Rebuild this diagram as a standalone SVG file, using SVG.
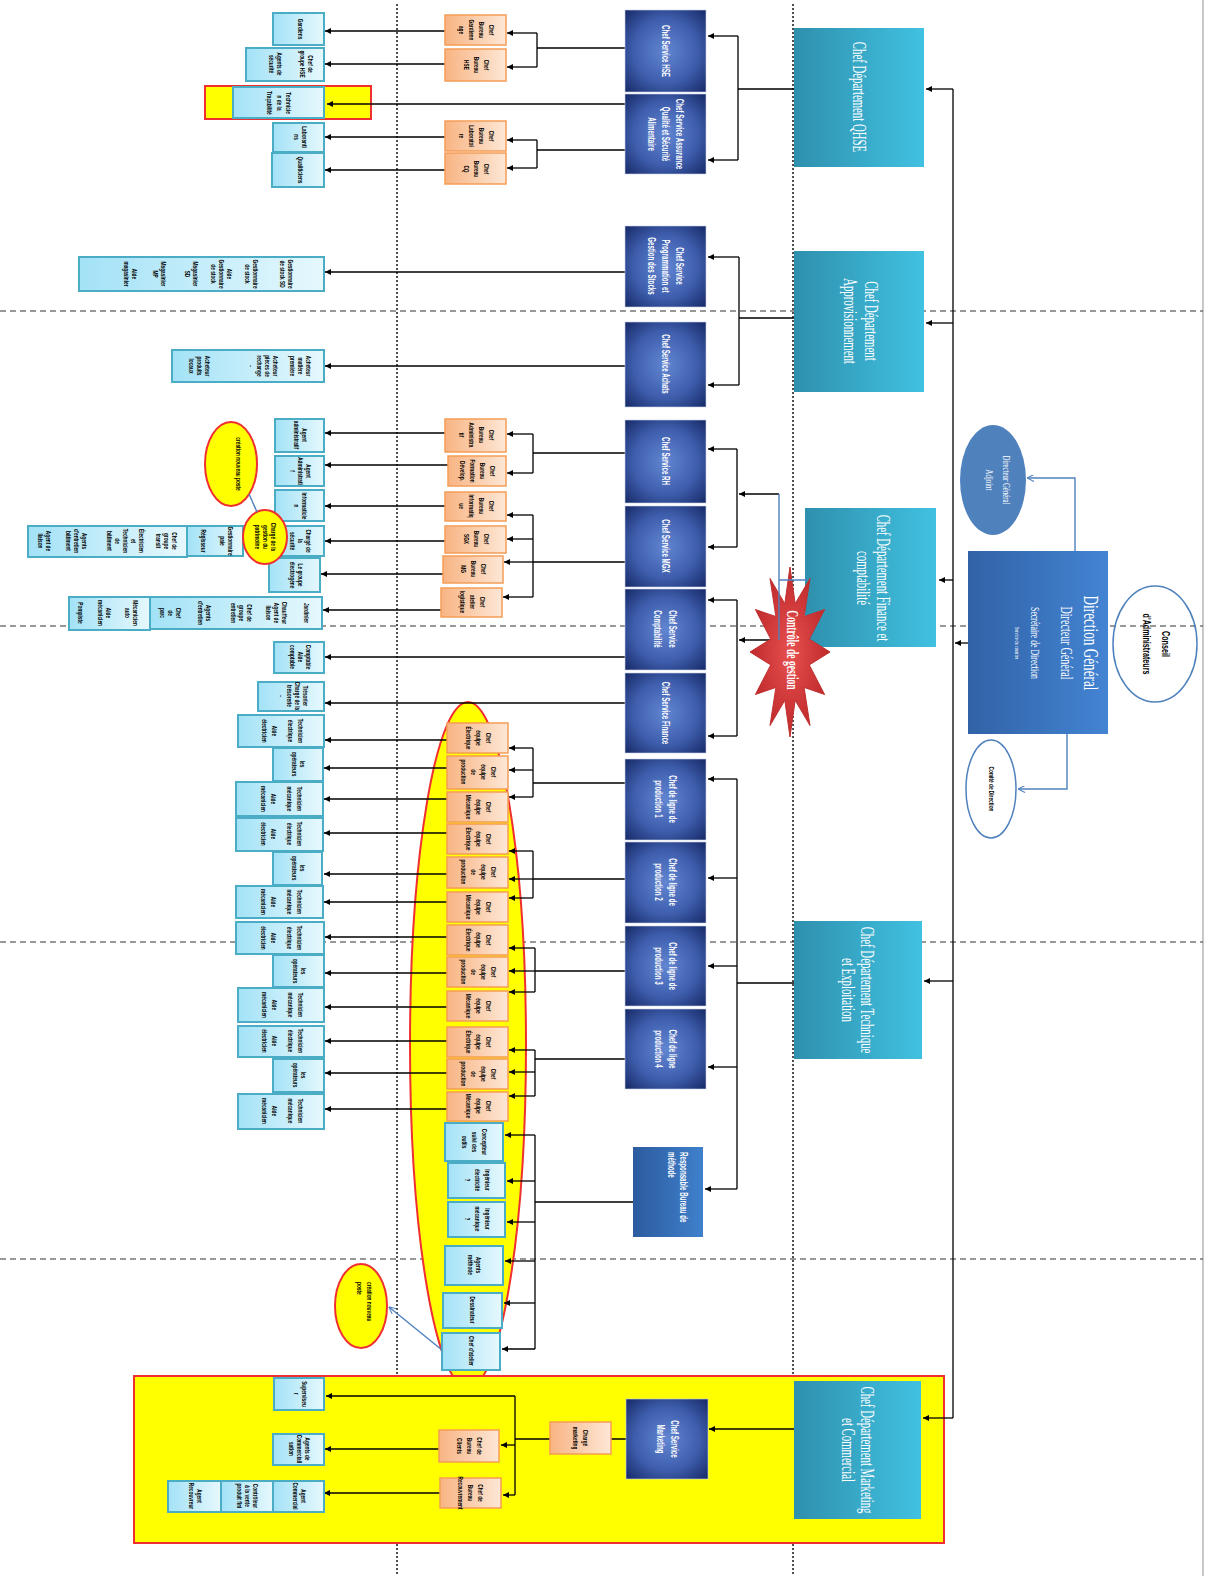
<svg xmlns="http://www.w3.org/2000/svg" width="1208" height="1576" viewBox="0 0 1208 1576">
<defs>
<linearGradient id="gT" x1="0" y1="0" x2="1" y2="0"><stop offset="0" stop-color="#2e90ad"/><stop offset="1" stop-color="#41c1e1"/></linearGradient>
<radialGradient id="gN" cx=".5" cy=".5" r=".7"><stop offset="0" stop-color="#6286d2"/><stop offset=".55" stop-color="#3f5fae"/><stop offset="1" stop-color="#172a68"/></radialGradient>
<linearGradient id="gDG" x1="0" y1="0" x2="1" y2="0"><stop offset="0" stop-color="#3162a6"/><stop offset="1" stop-color="#4384d3"/></linearGradient>
<linearGradient id="gR" x1="0" y1="0" x2="1" y2="0"><stop offset="0" stop-color="#2c5b9e"/><stop offset="1" stop-color="#3f80cc"/></linearGradient>
<linearGradient id="gO" x1="0" y1="0" x2="1" y2="0"><stop offset="0" stop-color="#f8b483"/><stop offset="1" stop-color="#fde7d6"/></linearGradient>
<linearGradient id="gL" x1="0" y1="0" x2="1" y2="0"><stop offset="0" stop-color="#a3e2f7"/><stop offset="1" stop-color="#e6f8fd"/></linearGradient>
<radialGradient id="gS" cx=".5" cy=".5" r=".6"><stop offset="0" stop-color="#e85050"/><stop offset="1" stop-color="#b82222"/></radialGradient>
<marker id="ah" viewBox="0 0 10 10" refX="10" refY="5" markerWidth="7" markerHeight="6" orient="auto" markerUnits="userSpaceOnUse"><path d="M0,0L10,5L0,10z" fill="#000"/></marker>
<marker id="bh" viewBox="0 0 10 10" refX="10" refY="5" markerWidth="8" markerHeight="7" orient="auto" markerUnits="userSpaceOnUse"><path d="M0,0L10,5L0,10" fill="none" stroke="#4f81bd" stroke-width="1.5"/></marker>
<style>
.grid{stroke:#333;stroke-width:1.2;stroke-dasharray:6 4;fill:none}
.dot{stroke:#222;stroke-width:1.6;stroke-dasharray:2 2;fill:none}
.c{fill:none;stroke:#000;stroke-width:1.3}
.a{marker-end:url(#ah)}
.b{fill:none;stroke:#4f81bd;stroke-width:1.4}
.ba{marker-end:url(#bh)}
.dept{fill:url(#gT)}
.svc{fill:url(#gN);stroke:#c8d2ea;stroke-width:.6}
.ob{fill:url(#gO);stroke:#f59d56;stroke-width:1.5}
.lb{fill:url(#gL);stroke:#4bacc6;stroke-width:2}
.yel{fill:#ffff00;stroke:#f03030;stroke-width:2}
.tD{font-family:"Liberation Serif",serif;font-size:18px;fill:#fff;text-anchor:middle}
.tV{font-family:"Liberation Sans",sans-serif;font-weight:bold;font-size:10px;fill:#fff;text-anchor:middle}
.tS{font-family:"Liberation Sans",sans-serif;font-weight:bold;font-size:6.6px;fill:#000;text-anchor:middle}
.tB{font-family:"Liberation Sans",sans-serif;font-weight:bold;font-size:11px;fill:#000;text-anchor:middle}
</style>
</defs>
<rect width="1208" height="1576" fill="#fff"/>
<g id="grid">
<line x1="1203" y1="0" x2="1203" y2="1576" stroke="#c8c8c8" stroke-width="2"/>
<line class="grid" x1="0" y1="311" x2="1203" y2="311"/>
<line class="grid" x1="0" y1="626" x2="1203" y2="626"/>
<line class="grid" x1="0" y1="942" x2="1203" y2="942"/>
<line class="grid" x1="0" y1="1259" x2="1203" y2="1259"/>
<line class="dot" x1="397" y1="4" x2="397" y2="1576"/>
<line class="dot" x1="793" y1="4" x2="793" y2="1576"/>
</g>
<g id="highlights">
<ellipse class="yel" cx="468" cy="1045" rx="58" ry="343"/>
<rect class="yel" x="134" y="1376" width="810" height="167"/>
<rect class="yel" x="205" y="86" width="166" height="33"/>
</g>
<g id="connectors">
<path class="c" d="M953,89V1418"/>
<path class="c a" d="M953,89H926"/><path class="c a" d="M953,323H926"/><path class="c a" d="M953,580H939"/><path class="c a" d="M953,981H924"/><path class="c a" d="M953,1418H923"/>
<path class="c a" d="M968,643H955"/>
<path class="c" d="M794,89H738M738,36V160"/><path class="c a" d="M738,36H708"/><path class="c a" d="M738,160H708"/>
<path class="c" d="M794,318H739M739,257V385"/><path class="c a" d="M739,257H708"/><path class="c a" d="M739,385H708"/>
<path class="c" d="M737,449V547M737,600V736"/><path class="c a" d="M737,449H708"/><path class="c a" d="M737,547H708"/><path class="c a" d="M737,600H708"/><path class="c a" d="M737,736H708"/>
<path class="c a" d="M779,494H739"/><path class="c a" d="M779,640H739"/>
<path class="c" d="M794,983H737M737,779V1189"/><path class="c a" d="M737,779H708"/><path class="c a" d="M737,878H708"/><path class="c a" d="M737,966H708"/><path class="c a" d="M737,1067H708"/><path class="c a" d="M737,1189H705"/>
<path class="c" d="M625,48H537M537,33V67"/><path class="c a" d="M537,33H507"/><path class="c a" d="M537,67H507"/><path class="c a" d="M445,31H325"/><path class="c a" d="M445,64H325"/>
<path class="c a" d="M625,104H327"/>
<path class="c" d="M625,150H537M537,140V168"/><path class="c a" d="M537,140H507"/><path class="c a" d="M537,168H507"/><path class="c a" d="M445,137H325"/><path class="c a" d="M445,170H325"/>
<path class="c a" d="M625,272H325"/><path class="c a" d="M625,366H325"/>
<path class="c" d="M625,453H533M533,434V473"/><path class="c a" d="M533,434H507"/><path class="c a" d="M533,473H507"/><path class="c a" d="M445,433H325"/><path class="c a" d="M448,465H325"/>
<path class="c" d="M625,562H533M533,515V597"/><path class="c a" d="M533,515H507"/><path class="c a" d="M533,539H507"/><path class="c a" d="M533,562H504"/><path class="c a" d="M533,597H503"/>
<path class="c a" d="M445,506H325"/><path class="c a" d="M445,541H325"/><path class="c a" d="M443,574H321"/><path class="c a" d="M441,610H323"/>
<path class="c a" d="M625,657H325"/><path class="c a" d="M625,703H325"/>
<path class="c" d="M625,783H533M533,748V797"/><path class="c a" d="M533,748H509"/><path class="c a" d="M533,770H509"/><path class="c a" d="M533,797H509"/>
<path class="c" d="M625,879H533M533,851V898"/><path class="c a" d="M533,851H509"/><path class="c a" d="M533,879H509"/><path class="c a" d="M533,898H509"/>
<path class="c" d="M625,971H535M535,948V992"/><path class="c a" d="M535,948H509"/><path class="c a" d="M535,971H509"/><path class="c a" d="M535,992H509"/>
<path class="c" d="M625,1059H535M535,1050V1096"/><path class="c a" d="M535,1050H509"/><path class="c a" d="M535,1072H509"/><path class="c a" d="M535,1096H509"/>
<path class="c a" d="M447,740H325"/><path class="c a" d="M447,768H324"/><path class="c a" d="M447,799H324"/><path class="c a" d="M447,833H324"/><path class="c a" d="M447,874H324"/><path class="c a" d="M447,902H324"/>
<path class="c a" d="M447,937H325"/><path class="c a" d="M447,973H325"/><path class="c a" d="M447,1007H325"/><path class="c a" d="M447,1041H325"/><path class="c a" d="M447,1073H325"/><path class="c a" d="M447,1109H325"/>
<path class="c" d="M633,1202H535M535,1135V1349"/><path class="c a" d="M535,1135H505"/><path class="c a" d="M535,1181H507"/><path class="c a" d="M535,1222H507"/><path class="c a" d="M535,1261H505"/><path class="c a" d="M535,1303H504"/><path class="c a" d="M535,1349H502"/>
<path class="c a" d="M794,1429H709"/><path class="c" d="M626,1439H611M550,1439H515M515,1396V1495"/><path class="c a" d="M515,1396H326"/><path class="c a" d="M515,1445H501"/><path class="c a" d="M515,1495H503"/><path class="c a" d="M439,1449H325"/><path class="c a" d="M440,1493H324"/>
</g>
<g id="nodes">
<g id="dept-qhse"><rect class="dept" x="794" y="28" width="130" height="139"/><text class="tD" transform="translate(859,97) rotate(90) scale(.6,1)"><tspan x="0" y="6">Chef Département QHSE</tspan></text></g>
<g id="dept-appro"><rect class="dept" x="794" y="251" width="130" height="141"/><text class="tD" transform="translate(859,321) rotate(90) scale(.6,1)"><tspan x="0" y="-6">Chef Département</tspan><tspan x="0" y="15">Approvisionnement</tspan></text></g>
<g id="dept-finance"><rect class="dept" x="805" y="508" width="131" height="139"/><text class="tD" transform="translate(870,578) rotate(90) scale(.6,1)"><tspan x="0" y="-7">Chef Département Finance et</tspan><tspan x="0" y="13">comptabilité</tspan></text></g>
<g id="dept-technique"><rect class="dept" x="794" y="921" width="128" height="138"/><text class="tD" transform="translate(858,990) rotate(90) scale(.6,1)"><tspan x="0" y="-3">Chef Département Technique</tspan><tspan x="0" y="16">et Exploitation</tspan></text></g>
<g id="dept-marketing"><rect class="dept" x="794" y="1381" width="127" height="138"/><text class="tD" transform="translate(857,1450) rotate(90) scale(.6,1)"><tspan x="0" y="-4">Chef Département Marketing</tspan><tspan x="0" y="15">et Commercial</tspan></text></g>
<g id="dg"><rect x="968" y="551" width="140" height="183" fill="url(#gDG)"/><text transform="translate(1038,643) rotate(90) scale(.6,1)" fill="#fff" font-family="Liberation Serif, serif" text-anchor="middle"><tspan x="0" y="-46" font-size="22">Direction Général</tspan><tspan x="0" y="-23" font-size="17">Directeur Général</tspan><tspan x="0" y="7" font-size="13">Secrétaire de Direction</tspan><tspan x="0" y="23" font-size="7">Service du courrier</tspan></text></g>
<g id="dg-adjoint"><ellipse cx="993" cy="480" rx="33" ry="55" fill="#4f81bd"/><text transform="translate(998,480) rotate(90) scale(.62,1)" fill="#fff" font-family="Liberation Serif, serif" font-size="11" text-anchor="middle"><tspan x="0" y="-5">Directeur Général</tspan><tspan x="0" y="12">Adjoint</tspan></text></g>
<g id="comite"><ellipse cx="991" cy="789" rx="25" ry="49" fill="#fff" stroke="#4f81bd" stroke-width="1.5"/><text class="tS" font-size="7" transform="translate(991,789) rotate(90) scale(.72,1)"><tspan x="0" y="2.4">Comité de Direction</tspan></text></g>
<g id="conseil"><ellipse cx="1155" cy="644" rx="42" ry="58" fill="none" stroke="#4f81bd" stroke-width="1.5"/><text class="tB" transform="translate(1155,644) rotate(90) scale(.65,1)"><tspan x="0" y="-7">Conseil</tspan><tspan x="0" y="12">d'Administrateurs</tspan></text></g>

<g id="svc-hse"><rect class="svc" x="625" y="10" width="81" height="82"/><text class="tV" transform="translate(665,51) rotate(90) scale(.62,1)"><tspan x="0" y="3.3">Chef Service HSE</tspan></text></g>
<g id="svc-aq"><rect class="svc" x="625" y="94" width="81" height="80"/><text class="tV" transform="translate(665,134) rotate(90) scale(.62,1)"><tspan x="0" y="-10.7">Chef Service Assurance</tspan><tspan x="0" y="3.3">Qualité et Sécurité</tspan><tspan x="0" y="17.3">Alimentaire</tspan></text></g>
<g id="svc-prog"><rect class="svc" x="625" y="226" width="81" height="81"/><text class="tV" transform="translate(665,266) rotate(90) scale(.62,1)"><tspan x="0" y="-10.7">Chef Service</tspan><tspan x="0" y="3.3">Programmation et</tspan><tspan x="0" y="17.3">Gestion des Stocks</tspan></text></g>
<g id="svc-achats"><rect class="svc" x="625" y="322" width="81" height="85"/><text class="tV" transform="translate(665,364) rotate(90) scale(.62,1)"><tspan x="0" y="3.3">Chef Service Achats</tspan></text></g>
<g id="svc-rh"><rect class="svc" x="625" y="420" width="81" height="83"/><text class="tV" transform="translate(665,461) rotate(90) scale(.62,1)"><tspan x="0" y="3.3">Chef Service  RH</tspan></text></g>
<g id="svc-mgx"><rect class="svc" x="625" y="506" width="81" height="81"/><text class="tV" transform="translate(665,546) rotate(90) scale(.62,1)"><tspan x="0" y="3.3">Chef Service MGX</tspan></text></g>
<g id="svc-compta"><rect class="svc" x="625" y="589" width="81" height="81"/><text class="tV" transform="translate(665,629) rotate(90) scale(.62,1)"><tspan x="0" y="-3.7">Chef Service</tspan><tspan x="0" y="11.3">Comptabilité</tspan></text></g>
<g id="svc-finance"><rect class="svc" x="625" y="673" width="81" height="80"/><text class="tV" transform="translate(665,713) rotate(90) scale(.62,1)"><tspan x="0" y="3.3">Chef Service  Finance</tspan></text></g>
<g id="svc-prod1"><rect class="svc" x="625" y="759" width="81" height="81"/><text class="tV" transform="translate(665,799) rotate(90) scale(.62,1)"><tspan x="0" y="-3.7">Chef de ligne de</tspan><tspan x="0" y="10.3">production 1</tspan></text></g>
<g id="svc-prod2"><rect class="svc" x="625" y="842" width="81" height="81"/><text class="tV" transform="translate(665,882) rotate(90) scale(.62,1)"><tspan x="0" y="-3.7">Chef de ligne de</tspan><tspan x="0" y="10.3">production 2</tspan></text></g>
<g id="svc-prod3"><rect class="svc" x="625" y="926" width="81" height="80"/><text class="tV" transform="translate(665,966) rotate(90) scale(.62,1)"><tspan x="0" y="-3.7">Chef de ligne de</tspan><tspan x="0" y="10.3">production 3</tspan></text></g>
<g id="svc-prod4"><rect class="svc" x="625" y="1009" width="81" height="80"/><text class="tV" transform="translate(665,1049) rotate(90) scale(.62,1)"><tspan x="0" y="-3.7">Chef de ligne</tspan><tspan x="0" y="10.3">production 4</tspan></text></g>
<g id="resp-methode"><rect x="633" y="1147" width="70" height="90" fill="url(#gR)"/><text class="tV" text-anchor="start" style="text-anchor:start" transform="translate(677,1152) rotate(90) scale(.62,1)"><tspan x="0" y="-2.7">Responsable Bureau de</tspan><tspan x="0" y="9.3">méthode</tspan></text></g>
<g id="svc-marketing"><rect class="svc" x="626" y="1399" width="82" height="80"/><text class="tV" transform="translate(667,1439) rotate(90) scale(.62,1)"><tspan x="0" y="-3.7">Chef Service</tspan><tspan x="0" y="10.3">Marketing</tspan></text></g>

<g id="ob-gard"><rect class="ob" x="445" y="15" width="61" height="30"/><text class="tS" transform="translate(476,30) rotate(90) scale(.72,1)"><tspan x="0" y="-12.7">Chef</tspan><tspan x="0" y="-2.7">Bureau</tspan><tspan x="0" y="7.3">Gardienn</tspan><tspan x="0" y="17.3">age</tspan></text></g>
<g id="ob-hse"><rect class="ob" x="445" y="49" width="61" height="32"/><text class="tS" transform="translate(476,65) rotate(90) scale(.72,1)"><tspan x="0" y="-7.7">Chef</tspan><tspan x="0" y="2.3">Bureau</tspan><tspan x="0" y="12.3">HSE</tspan></text></g>
<g id="ob-lab"><rect class="ob" x="445" y="121" width="61" height="30"/><text class="tS" transform="translate(476,136) rotate(90) scale(.72,1)"><tspan x="0" y="-12.7">Chef</tspan><tspan x="0" y="-2.7">Bureau</tspan><tspan x="0" y="7.3">Laboratoi</tspan><tspan x="0" y="17.3">re</tspan></text></g>
<g id="ob-cq"><rect class="ob" x="445" y="153" width="61" height="31"/><text class="tS" transform="translate(476,169) rotate(90) scale(.72,1)"><tspan x="0" y="-7.7">Chef</tspan><tspan x="0" y="2.3">Bureau</tspan><tspan x="0" y="12.3">CQ</tspan></text></g>
<g id="lb-gardiens"><rect class="lb" x="273" y="13" width="51" height="32"/><text class="tS" transform="translate(300,29) rotate(90) scale(.72,1)"><tspan x="0" y="2.3">Gardiens</tspan></text></g>
<g id="lb-hse"><rect class="lb" x="246" y="48" width="78" height="33"/><text class="tS" transform="translate(306,64) rotate(90) scale(.72,1)"><tspan x="0" y="-1.7">Chef de</tspan><tspan x="0" y="6.3">groupe HSE</tspan></text><text class="tS" transform="translate(275,64) rotate(90) scale(.72,1)"><tspan x="0" y="-1.7">Agents de</tspan><tspan x="0" y="6.3">sécurité</tspan></text></g>
<g id="lb-trac"><rect class="lb" x="233" y="87" width="91" height="31"/><text class="tS" transform="translate(279,103) rotate(90) scale(.72,1)"><tspan x="0" y="-7.2">Technicie</tspan><tspan x="0" y="2.3">n de la</tspan><tspan x="0" y="11.8">Traçabilité</tspan></text></g>
<g id="lb-labo"><rect class="lb" x="273" y="123" width="51" height="29"/><text class="tS" transform="translate(300,137) rotate(90) scale(.72,1)"><tspan x="0" y="-1.7">Laboranti</tspan><tspan x="0" y="6.3">ns</tspan></text></g>
<g id="lb-quali"><rect class="lb" x="272" y="153" width="52" height="34"/><text class="tS" transform="translate(300,170) rotate(90) scale(.72,1)"><tspan x="0" y="2.3">Qualiticiens</tspan></text></g>

<g id="lb-stock"><rect class="lb" x="79" y="257" width="245" height="34"/>
<text class="tS" transform="translate(286,274) rotate(90) scale(.72,1)"><tspan x="0" y="-1.7">Gestionnaire</tspan><tspan x="0" y="6.3">de stock SD</tspan></text>
<text class="tS" transform="translate(251,274) rotate(90) scale(.72,1)"><tspan x="0" y="-1.7">Gestionnaire</tspan><tspan x="0" y="6.3">de stock</tspan></text>
<text class="tS" transform="translate(221,274) rotate(90) scale(.72,1)"><tspan x="0" y="-5.7">Aide</tspan><tspan x="0" y="2.3">Gestionnaire</tspan><tspan x="0" y="10.3">de stock</tspan></text>
<text class="tS" transform="translate(191,274) rotate(90) scale(.72,1)"><tspan x="0" y="-1.7">Magasinier</tspan><tspan x="0" y="6.3">SD</tspan></text>
<text class="tS" transform="translate(159,274) rotate(90) scale(.72,1)"><tspan x="0" y="-1.7">Magasinier</tspan><tspan x="0" y="6.3">MP</tspan></text>
<text class="tS" transform="translate(130,274) rotate(90) scale(.72,1)"><tspan x="0" y="-1.7">Aide</tspan><tspan x="0" y="6.3">magasinier</tspan></text></g>
<g id="lb-achats"><rect class="lb" x="172" y="350" width="152" height="32"/>
<text class="tS" transform="translate(300,366) rotate(90) scale(.72,1)"><tspan x="0" y="-5.7">Acheteur</tspan><tspan x="0" y="2.3">matière</tspan><tspan x="0" y="10.3">première</tspan></text>
<text class="tS" transform="translate(263,366) rotate(90) scale(.72,1)"><tspan x="0" y="-9.7">Acheteur</tspan><tspan x="0" y="-1.7">pièces de</tspan><tspan x="0" y="6.3">rechange</tspan><tspan x="0" y="14.3">-</tspan></text>
<text class="tS" transform="translate(199,366) rotate(90) scale(.72,1)"><tspan x="0" y="-5.7">Acheteur</tspan><tspan x="0" y="2.3">produits</tspan><tspan x="0" y="10.3">locaux</tspan></text></g>

<g id="ob-adm"><rect class="ob" x="445" y="419" width="61" height="33"/><text class="tS" transform="translate(476,435) rotate(90) scale(.72,1)"><tspan x="0" y="-12.7">Chef</tspan><tspan x="0" y="-2.7">Bureau</tspan><tspan x="0" y="7.3">Administra</tspan><tspan x="0" y="17.3">tif</tspan></text></g>
<g id="ob-form"><rect class="ob" x="448" y="456" width="58" height="30"/><text class="tS" transform="translate(477,471) rotate(90) scale(.72,1)"><tspan x="0" y="-12.7">Chef</tspan><tspan x="0" y="-2.7">Bureau</tspan><tspan x="0" y="7.3">Formation</tspan><tspan x="0" y="17.3">Dévelop.</tspan></text></g>
<g id="ob-info"><rect class="ob" x="445" y="492" width="61" height="29"/><text class="tS" transform="translate(476,506) rotate(90) scale(.72,1)"><tspan x="0" y="-12.7">Chef</tspan><tspan x="0" y="-2.7">Bureau</tspan><tspan x="0" y="7.3">Informatiq</tspan><tspan x="0" y="17.3">ue</tspan></text></g>
<g id="ob-sgx"><rect class="ob" x="445" y="526" width="61" height="27"/><text class="tS" transform="translate(476,539) rotate(90) scale(.72,1)"><tspan x="0" y="-7.7">Chef</tspan><tspan x="0" y="2.3">Bureau</tspan><tspan x="0" y="12.3">SGX</tspan></text></g>
<g id="ob-mg"><rect class="ob" x="443" y="556" width="60" height="27"/><text class="tS" transform="translate(473,569) rotate(90) scale(.72,1)"><tspan x="0" y="-7.7">Chef</tspan><tspan x="0" y="2.3">Bureau</tspan><tspan x="0" y="12.3">MG</tspan></text></g>
<g id="ob-log"><rect class="ob" x="441" y="588" width="61" height="29"/><text class="tS" transform="translate(472,602) rotate(90) scale(.72,1)"><tspan x="0" y="-7.7">Chef</tspan><tspan x="0" y="2.3">atelier</tspan><tspan x="0" y="12.3">logistique</tspan></text></g>
<g id="lb-adm"><rect class="lb" x="275" y="419" width="49" height="33"/><text class="tS" transform="translate(300,435) rotate(90) scale(.72,1)"><tspan x="0" y="-1.7">Agent</tspan><tspan x="0" y="6.3">administratif</tspan></text></g>
<g id="lb-adm2"><rect class="lb" x="275" y="456" width="49" height="30"/><text class="tS" transform="translate(300,471) rotate(90) scale(.72,1)"><tspan x="0" y="-5.7">Agent</tspan><tspan x="0" y="2.3">Administrati</tspan><tspan x="0" y="10.3">f</tspan></text></g>
<g id="lb-info"><rect class="lb" x="275" y="490" width="49" height="31"/><text class="tS" transform="translate(300,506) rotate(90) scale(.72,1)"><tspan x="0" y="-1.7">Informaticie</tspan><tspan x="0" y="6.3">n</tspan></text></g>
<g id="lb-secu"><rect class="lb" x="273" y="526" width="51" height="30"/><text class="tS" transform="translate(300,541) rotate(90) scale(.72,1)"><tspan x="0" y="-5.7">Chargé de</tspan><tspan x="0" y="2.3">la</tspan><tspan x="0" y="10.3">sécurité</tspan></text></g>
<g id="lb-paie"><rect class="lb" x="187" y="526" width="56" height="30"/><text class="tS" transform="translate(226,541) rotate(90) scale(.72,1)"><tspan x="0" y="-1.7">Gestionnaire</tspan><tspan x="0" y="6.3">paie</tspan></text><text class="tS" transform="translate(203,541) rotate(90) scale(.72,1)"><tspan x="0" y="2.3">Régisseur</tspan></text></g>
<g id="lb-entretien"><rect class="lb" x="28" y="526" width="159" height="31"/>
<text class="tS" transform="translate(166,541) rotate(90) scale(.72,1)"><tspan x="0" y="-5.7">Chef de</tspan><tspan x="0" y="2.3">groupe</tspan><tspan x="0" y="10.3">transit</tspan></text>
<text class="tS" transform="translate(125,541) rotate(90) scale(.72,1)"><tspan x="0" y="-13.7">Électricien</tspan><tspan x="0" y="-5.7">et</tspan><tspan x="0" y="2.3">Technicien</tspan><tspan x="0" y="10.3">de</tspan><tspan x="0" y="18.3">bâtiment</tspan></text>
<text class="tS" transform="translate(76,541) rotate(90) scale(.72,1)"><tspan x="0" y="-5.7">Agents</tspan><tspan x="0" y="2.3">d'entretien</tspan><tspan x="0" y="10.3">bâtiment</tspan></text>
<text class="tS" transform="translate(44,541) rotate(90) scale(.72,1)"><tspan x="0" y="-1.7">Agent de</tspan><tspan x="0" y="6.3">liaison</tspan></text></g>
<g id="lb-groupe"><rect class="lb" x="269" y="558" width="51" height="34"/><text class="tS" transform="translate(296,575) rotate(90) scale(.72,1)"><tspan x="0" y="-1.7">Le groupe</tspan><tspan x="0" y="6.3">électrogène</tspan></text></g>
<g id="lb-parc"><rect class="lb" x="150" y="597" width="172" height="32"/>
<text class="tS" transform="translate(306,613) rotate(90) scale(.72,1)"><tspan x="0" y="2.3">Jardinier</tspan></text>
<text class="tS" transform="translate(276,613) rotate(90) scale(.72,1)"><tspan x="0" y="-5.7">Chauffeur</tspan><tspan x="0" y="2.3">Agent de</tspan><tspan x="0" y="10.3">liaison</tspan></text>
<text class="tS" transform="translate(241,613) rotate(90) scale(.72,1)"><tspan x="0" y="-5.7">Chef de</tspan><tspan x="0" y="2.3">groupe</tspan><tspan x="0" y="10.3">entretien</tspan></text>
<text class="tS" transform="translate(204,613) rotate(90) scale(.72,1)"><tspan x="0" y="-1.7">Agents</tspan><tspan x="0" y="6.3">d'entretien</tspan></text>
<text class="tS" transform="translate(170,613) rotate(90) scale(.72,1)"><tspan x="0" y="-5.7">Chef</tspan><tspan x="0" y="2.3">de</tspan><tspan x="0" y="10.3">parc</tspan></text></g>
<g id="lb-meca"><rect class="lb" x="69" y="597" width="81" height="33"/>
<text class="tS" transform="translate(131,613) rotate(90) scale(.72,1)"><tspan x="0" y="-1.7">Mécanicien</tspan><tspan x="0" y="6.3">auto</tspan></text>
<text class="tS" transform="translate(104,613) rotate(90) scale(.72,1)"><tspan x="0" y="-1.7">Aide</tspan><tspan x="0" y="6.3">mécanicien</tspan></text>
<text class="tS" transform="translate(80,613) rotate(90) scale(.72,1)"><tspan x="0" y="2.3">Pompiste</tspan></text></g>
<g id="lb-compta"><rect class="lb" x="274" y="642" width="50" height="31"/><text class="tS" transform="translate(300,657) rotate(90) scale(.72,1)"><tspan x="0" y="-5.7">Comptable</tspan><tspan x="0" y="2.3">Aide</tspan><tspan x="0" y="10.3">comptable</tspan></text></g>
<g id="lb-treso"><rect class="lb" x="258" y="682" width="66" height="29"/><text class="tS" transform="translate(293,696) rotate(90) scale(.72,1)"><tspan x="0" y="-9.7">Trésorier</tspan><tspan x="0" y="-1.7">Chargé de la</tspan><tspan x="0" y="6.3">trésorerie</tspan><tspan x="0" y="14.3">-</tspan></text></g>

<g id="ob-p1"><rect class="ob" x="447" y="723" width="61" height="30"/><text class="tS" transform="translate(478,738) rotate(90) scale(.72,1)"><tspan x="0" y="-7.7">Chef</tspan><tspan x="0" y="2.3">équipe</tspan><tspan x="0" y="12.3">Électrique</tspan></text></g>
<g id="ob-p2"><rect class="ob" x="447" y="756" width="61" height="33"/><text class="tS" transform="translate(478,772) rotate(90) scale(.72,1)"><tspan x="0" y="-12.7">Chef</tspan><tspan x="0" y="-2.7">équipe</tspan><tspan x="0" y="7.3">de</tspan><tspan x="0" y="17.3">production</tspan></text></g>
<g id="ob-p3"><rect class="ob" x="447" y="792" width="61" height="30"/><text class="tS" transform="translate(478,807) rotate(90) scale(.72,1)"><tspan x="0" y="-7.7">Chef</tspan><tspan x="0" y="2.3">équipe</tspan><tspan x="0" y="12.3">Mécanique</tspan></text></g>
<g id="ob-p4"><rect class="ob" x="447" y="824" width="61" height="30"/><text class="tS" transform="translate(478,839) rotate(90) scale(.72,1)"><tspan x="0" y="-7.7">Chef</tspan><tspan x="0" y="2.3">équipe</tspan><tspan x="0" y="12.3">Électrique</tspan></text></g>
<g id="ob-p5"><rect class="ob" x="447" y="857" width="61" height="31"/><text class="tS" transform="translate(478,872) rotate(90) scale(.72,1)"><tspan x="0" y="-12.7">Chef</tspan><tspan x="0" y="-2.7">équipe</tspan><tspan x="0" y="7.3">de</tspan><tspan x="0" y="17.3">production</tspan></text></g>
<g id="ob-p6"><rect class="ob" x="447" y="892" width="61" height="30"/><text class="tS" transform="translate(478,907) rotate(90) scale(.72,1)"><tspan x="0" y="-7.7">Chef</tspan><tspan x="0" y="2.3">équipe</tspan><tspan x="0" y="12.3">Mécanique</tspan></text></g>
<g id="ob-p7"><rect class="ob" x="447" y="925" width="61" height="30"/><text class="tS" transform="translate(478,940) rotate(90) scale(.72,1)"><tspan x="0" y="-7.7">Chef</tspan><tspan x="0" y="2.3">équipe</tspan><tspan x="0" y="12.3">Électrique</tspan></text></g>
<g id="ob-p8"><rect class="ob" x="447" y="957" width="61" height="30"/><text class="tS" transform="translate(478,972) rotate(90) scale(.72,1)"><tspan x="0" y="-12.7">Chef</tspan><tspan x="0" y="-2.7">équipe</tspan><tspan x="0" y="7.3">de</tspan><tspan x="0" y="17.3">production</tspan></text></g>
<g id="ob-p9"><rect class="ob" x="447" y="991" width="61" height="30"/><text class="tS" transform="translate(478,1006) rotate(90) scale(.72,1)"><tspan x="0" y="-7.7">Chef</tspan><tspan x="0" y="2.3">équipe</tspan><tspan x="0" y="12.3">Mécanique</tspan></text></g>
<g id="ob-p10"><rect class="ob" x="447" y="1027" width="61" height="30"/><text class="tS" transform="translate(478,1042) rotate(90) scale(.72,1)"><tspan x="0" y="-7.7">Chef</tspan><tspan x="0" y="2.3">équipe</tspan><tspan x="0" y="12.3">Électrique</tspan></text></g>
<g id="ob-p11"><rect class="ob" x="447" y="1059" width="61" height="30"/><text class="tS" transform="translate(478,1074) rotate(90) scale(.72,1)"><tspan x="0" y="-12.7">Chef</tspan><tspan x="0" y="-2.7">équipe</tspan><tspan x="0" y="7.3">de</tspan><tspan x="0" y="17.3">production</tspan></text></g>
<g id="ob-p12"><rect class="ob" x="447" y="1092" width="61" height="29"/><text class="tS" transform="translate(478,1106) rotate(90) scale(.72,1)"><tspan x="0" y="-7.7">Chef</tspan><tspan x="0" y="2.3">équipe</tspan><tspan x="0" y="12.3">Mécanique</tspan></text></g>

<g id="lb-p1"><rect class="lb" x="238" y="715" width="86" height="32"/><text class="tS" transform="translate(282,731) rotate(90) scale(.72,1)"><tspan x="0" y="-15.7">Technicien</tspan><tspan x="0" y="-5.7">électrique</tspan><tspan x="0" y="10.3">Aide</tspan><tspan x="0" y="20.3">électricien</tspan></text></g>
<g id="lb-p2"><rect class="lb" x="273" y="748" width="50" height="33"/><text class="tS" transform="translate(298,764) rotate(90) scale(.72,1)"><tspan x="0" y="-1.7">les</tspan><tspan x="0" y="6.3">opérateurs</tspan></text></g>
<g id="lb-p3"><rect class="lb" x="236" y="782" width="87" height="34"/><text class="tS" transform="translate(281,799) rotate(90) scale(.72,1)"><tspan x="0" y="-15.7">Technicien</tspan><tspan x="0" y="-5.7">mécanique</tspan><tspan x="0" y="10.3">Aide</tspan><tspan x="0" y="20.3">mécanicien</tspan></text></g>
<g id="lb-p4"><rect class="lb" x="236" y="818" width="87" height="33"/><text class="tS" transform="translate(281,834) rotate(90) scale(.72,1)"><tspan x="0" y="-15.7">Technicien</tspan><tspan x="0" y="-5.7">électrique</tspan><tspan x="0" y="10.3">Aide</tspan><tspan x="0" y="20.3">électricien</tspan></text></g>
<g id="lb-p5"><rect class="lb" x="273" y="852" width="49" height="33"/><text class="tS" transform="translate(298,868) rotate(90) scale(.72,1)"><tspan x="0" y="-1.7">les</tspan><tspan x="0" y="6.3">opérateurs</tspan></text></g>
<g id="lb-p6"><rect class="lb" x="236" y="886" width="87" height="32"/><text class="tS" transform="translate(281,902) rotate(90) scale(.72,1)"><tspan x="0" y="-15.7">Technicien</tspan><tspan x="0" y="-5.7">mécanique</tspan><tspan x="0" y="10.3">Aide</tspan><tspan x="0" y="20.3">mécanicien</tspan></text></g>
<g id="lb-p7"><rect class="lb" x="236" y="922" width="88" height="32"/><text class="tS" transform="translate(281,938) rotate(90) scale(.72,1)"><tspan x="0" y="-15.7">Technicien</tspan><tspan x="0" y="-5.7">électrique</tspan><tspan x="0" y="10.3">Aide</tspan><tspan x="0" y="20.3">électricien</tspan></text></g>
<g id="lb-p8"><rect class="lb" x="273" y="955" width="51" height="32"/><text class="tS" transform="translate(299,971) rotate(90) scale(.72,1)"><tspan x="0" y="-1.7">les</tspan><tspan x="0" y="6.3">opérateurs</tspan></text></g>
<g id="lb-p9"><rect class="lb" x="238" y="988" width="86" height="34"/><text class="tS" transform="translate(282,1005) rotate(90) scale(.72,1)"><tspan x="0" y="-15.7">Technicien</tspan><tspan x="0" y="-5.7">mécanique</tspan><tspan x="0" y="10.3">Aide</tspan><tspan x="0" y="20.3">mécanicien</tspan></text></g>
<g id="lb-p10"><rect class="lb" x="238" y="1026" width="86" height="31"/><text class="tS" transform="translate(282,1041) rotate(90) scale(.72,1)"><tspan x="0" y="-15.7">Technicien</tspan><tspan x="0" y="-5.7">électrique</tspan><tspan x="0" y="10.3">Aide</tspan><tspan x="0" y="20.3">électricien</tspan></text></g>
<g id="lb-p11"><rect class="lb" x="273" y="1059" width="51" height="33"/><text class="tS" transform="translate(299,1075) rotate(90) scale(.72,1)"><tspan x="0" y="-1.7">les</tspan><tspan x="0" y="6.3">opérateurs</tspan></text></g>
<g id="lb-p12"><rect class="lb" x="238" y="1094" width="86" height="35"/><text class="tS" transform="translate(282,1111) rotate(90) scale(.72,1)"><tspan x="0" y="-15.7">Technicien</tspan><tspan x="0" y="-5.7">mécanique</tspan><tspan x="0" y="10.3">Aide</tspan><tspan x="0" y="20.3">mécanicien</tspan></text></g>

<g id="lb-m1"><rect class="lb" x="445" y="1123" width="58" height="38"/><text class="tS" transform="translate(474,1142) rotate(90) scale(.72,1)"><tspan x="0" y="-7.7">Concepteur</tspan><tspan x="0" y="2.3">suivi des</tspan><tspan x="0" y="12.3">outils</tspan></text></g>
<g id="lb-m2"><rect class="lb" x="448" y="1163" width="57" height="35"/><text class="tS" transform="translate(477,1180) rotate(90) scale(.72,1)"><tspan x="0" y="-7.7">Ingénieur</tspan><tspan x="0" y="2.3">électricité</tspan><tspan x="0" y="12.3">?</tspan></text></g>
<g id="lb-m3"><rect class="lb" x="448" y="1202" width="57" height="35"/><text class="tS" transform="translate(477,1219) rotate(90) scale(.72,1)"><tspan x="0" y="-7.7">Ingénieur</tspan><tspan x="0" y="2.3">mécanique</tspan><tspan x="0" y="12.3">?</tspan></text></g>
<g id="lb-m4"><rect class="lb" x="445" y="1246" width="58" height="39"/><text class="tS" transform="translate(474,1265) rotate(90) scale(.72,1)"><tspan x="0" y="-1.7">Agents</tspan><tspan x="0" y="6.3">méthode</tspan></text></g>
<g id="lb-m5"><rect class="lb" x="443" y="1293" width="59" height="35"/><text class="tS" transform="translate(472,1310) rotate(90) scale(.72,1)"><tspan x="0" y="2.3">Dessinateur</tspan></text></g>
<g id="lb-m6"><rect class="lb" x="442" y="1333" width="58" height="37"/><text class="tS" transform="translate(471,1351) rotate(90) scale(.72,1)"><tspan x="0" y="2.3">Chef d'atelier</tspan></text></g>

<g id="ob-mk"><rect class="ob" x="550" y="1422" width="61" height="32"/><text class="tS" transform="translate(580,1438) rotate(90) scale(.72,1)"><tspan x="0" y="-2.7">Chargé</tspan><tspan x="0" y="7.3">marketing</tspan></text></g>
<g id="ob-cli"><rect class="ob" x="439" y="1430" width="60" height="32"/><text class="tS" transform="translate(469,1446) rotate(90) scale(.72,1)"><tspan x="0" y="-7.7">Chef de</tspan><tspan x="0" y="2.3">Bureau</tspan><tspan x="0" y="12.3">Clients</tspan></text></g>
<g id="ob-rec"><rect class="ob" x="440" y="1478" width="61" height="30"/><text class="tS" transform="translate(470,1493) rotate(90) scale(.72,1)"><tspan x="0" y="-7.7">Chef de</tspan><tspan x="0" y="2.3">Bureau</tspan><tspan x="0" y="12.3">Recouvrement</tspan></text></g>
<g id="lb-sup"><rect class="lb" x="274" y="1378" width="50" height="32"/><text class="tS" transform="translate(300,1394) rotate(90) scale(.72,1)"><tspan x="0" y="-1.7">Superviseu</tspan><tspan x="0" y="6.3">r</tspan></text></g>
<g id="lb-com1"><rect class="lb" x="273" y="1434" width="51" height="31"/><text class="tS" transform="translate(299,1449) rotate(90) scale(.72,1)"><tspan x="0" y="-5.7">Agents de</tspan><tspan x="0" y="2.3">Commerciali</tspan><tspan x="0" y="10.3">sation</tspan></text></g>
<g id="lb-com2"><rect class="lb" x="273" y="1481" width="51" height="31"/><text class="tS" transform="translate(299,1496) rotate(90) scale(.72,1)"><tspan x="0" y="-1.7">Agent</tspan><tspan x="0" y="6.3">Commercial</tspan></text></g>
<g id="lb-ctrl"><rect class="lb" x="221" y="1481" width="52" height="31"/><text class="tS" transform="translate(247,1496) rotate(90) scale(.72,1)"><tspan x="0" y="-5.7">Contrôleur</tspan><tspan x="0" y="2.3">à la vente</tspan><tspan x="0" y="10.3">produit fini</tspan></text></g>
<g id="lb-recv"><rect class="lb" x="168" y="1481" width="53" height="31"/><text class="tS" transform="translate(195,1496) rotate(90) scale(.72,1)"><tspan x="0" y="-1.7">Agent</tspan><tspan x="0" y="6.3">Recouvreur</tspan></text></g>

<g id="note1"><ellipse class="yel" cx="231" cy="464" rx="26" ry="42"/><text class="tS" transform="translate(238,464) rotate(90) scale(.72,1)"><tspan x="0" y="2.3">création nouveau poste</tspan></text></g>
<g id="note2"><ellipse class="yel" cx="265" cy="537" rx="22" ry="27"/><text class="tS" transform="translate(265,537) rotate(90) scale(.72,1)"><tspan x="0" y="-5.7">Chargé de la</tspan><tspan x="0" y="2.3">gestion du</tspan><tspan x="0" y="10.3">patrimoine</tspan></text></g>
<g id="note3"><ellipse class="yel" cx="361" cy="1306" rx="26" ry="42"/><text class="tS" text-anchor="start" style="text-anchor:start" transform="translate(365,1282) rotate(90) scale(.72,1)"><tspan x="0" y="-1.7">création nouveau</tspan><tspan x="0" y="8.3">poste</tspan></text></g>
</g>
<g id="star-controle">
<polygon points="790,567 795.2,603.7 810,578.4 804.1,616.6 824.6,609.5 809.3,639.1 830,652 809.3,664.9 824.6,694.5 804.1,687.4 810,725.6 795.2,700.3 790,737 784.8,700.3 770,725.6 775.9,687.4 755.4,694.5 770.7,664.9 750,652 770.7,639.1 755.4,609.5 775.9,616.6 770,578.4 784.8,603.7" fill="url(#gS)" stroke="#c03030" stroke-width="1"/>
<text transform="translate(793,650) rotate(90) scale(.6,1)" font-family="Liberation Serif, serif" font-weight="bold" font-size="16" fill="#ffffff" text-anchor="middle"><tspan x="0" y="5.5">Contrôle de gestion</tspan></text>
</g>
<g id="blue-connectors">
<path class="b" d="M807,580H779M779,494V640"/>
<path class="b ba" d="M1075,551V478H1027"/>
<path class="b ba" d="M1067,734V789H1018"/>
<path class="b ba" d="M442,1350L389,1307"/>
<path class="b" d="M257,512L249,494"/>
</g>
</svg>
